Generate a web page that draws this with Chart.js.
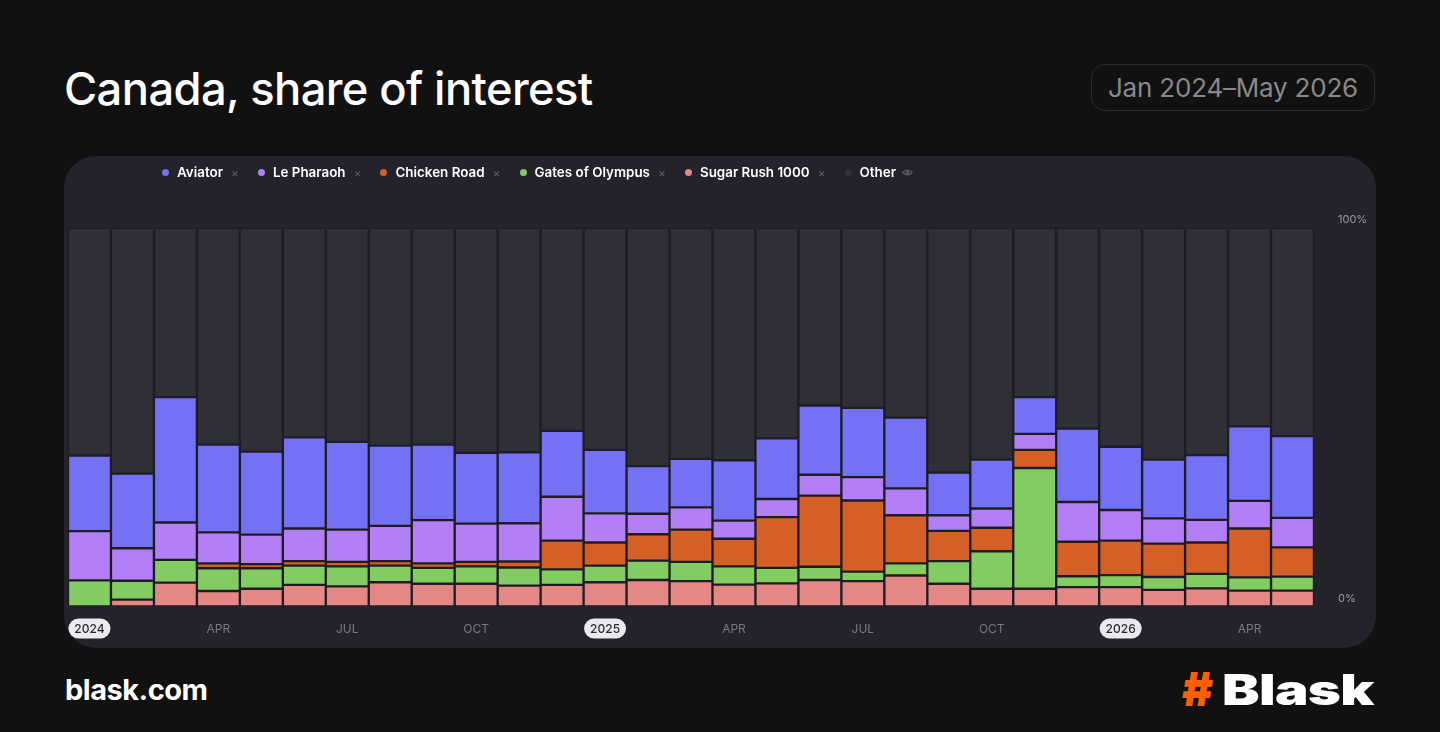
<!DOCTYPE html>
<html lang="en">
<head>
<meta charset="UTF-8">
<title>Canada, share of interest</title>
<script src="https://cdn.jsdelivr.net/npm/chart.js"></script>
<style>
  html, body { margin: 0; padding: 0; }
  body { width: 1440px; height: 732px; background: #111111; position: relative; overflow: hidden; font-family: Inter, "Noto Sans", sans-serif; }
  .title { position: absolute; left: 64px; top: 61px; color: #fff; font-size: 45.3px; font-weight: 500; letter-spacing: -0.6px; }
  .period { position: absolute; left: 1091px; top: 64px; width: 282px; height: 45px; border: 1.5px solid #2b2b2e; border-radius: 14px; color: #88888c; font-size: 26px; line-height: 45px; text-align: center; letter-spacing: -0.2px; }
  .card { position: absolute; left: 64px; top: 156px; width: 1312px; height: 492px; background: #24232b; border-radius: 32px; }
  .legend { position: absolute; left: 98px; top: 6px; display: flex; font-size: 13.4px; font-weight: 600; color: #fff; }
  .legend .item { display: flex; align-items: center; margin-right: 19px; height: 20px; }
  .legend .dot { width: 7px; height: 7px; border-radius: 50%; margin-right: 8px; }
  .legend .x { color: #5d5c64; font-size: 12px; font-weight: 400; margin-left: 8px; }
  .chartbox { position: absolute; left: 0; top: 0; width: 1312px; height: 492px; }
  .site { position: absolute; left: 65px; top: 672px; color: #fff; font-size: 29px; font-weight: 700; letter-spacing: -0.5px; }
  .hash { position: absolute; left: 1182px; top: 660px; font-size: 47px; font-weight: 900; color: #ff5f00; }
  .brand { position: absolute; left: 1222px; top: 664px; font-size: 42px; font-weight: 900; color: #fff; letter-spacing: -0.5px; transform: scaleX(1.34); transform-origin: left center; }
</style>
</head>
<body>
<div class="title">Canada, share of interest</div>
<div class="period">Jan 2024–May 2026</div>
<div class="card">
  <div class="chartbox"><canvas id="chart"></canvas></div>
  <div class="legend" id="legend"></div>
</div>
<div class="site">blask.com</div>
<div class="hash">#</div>
<div class="brand">Blask</div>

<script>
// months Jan 2024 .. May 2026
const months = ['Jan 2024','Feb 2024','Mar 2024','Apr 2024','May 2024','Jun 2024','Jul 2024','Aug 2024','Sep 2024','Oct 2024','Nov 2024','Dec 2024',
  'Jan 2025','Feb 2025','Mar 2025','Apr 2025','May 2025','Jun 2025','Jul 2025','Aug 2025','Sep 2025','Oct 2025','Nov 2025','Dec 2025',
  'Jan 2026','Feb 2026','Mar 2026','Apr 2026','May 2026'];
const tickLabels = ['2024','','','APR','','','JUL','','','OCT','','',
  '2025','','','APR','','','JUL','','','OCT','','',
  '2026','','','APR',''];
const yTicks = [0, 100];

const names = ['Aviator', 'Le Pharaoh', 'Chicken Road', 'Gates of Olympus', 'Sugar Rush 1000', 'Other'];
const colors = ['#7471f5', '#b37ff6', '#d45f27', '#83cc62', '#e58784', '#302f38'];

// share of interest, %
const aviator = [20.0,19.7,33.1,23.2,21.9,24.1,23.2,21.2,20.0,18.7,18.7,17.4,
  16.8,12.6,12.8,15.9,16.0,18.3,18.3,18.7,11.3,12.9,9.7,19.4,
  16.7,15.5,17.1,19.7,21.6];
const lePharaoh = [13.0,8.6,9.9,8.2,7.8,8.6,8.5,9.3,11.4,10.1,10.1,11.6,
  7.7,5.4,5.9,4.8,4.8,5.5,6.2,7.1,4.1,5.1,4.2,10.5,
  8.1,6.7,6.0,7.3,7.8];
const chickenRoad = [0,0,0,1.3,1.1,1.2,1.2,1.2,1.2,1.2,1.6,7.6,
  6.1,7.0,8.5,7.3,13.4,18.8,18.8,12.7,8.0,6.2,4.8,9.1,
  9.1,8.8,8.3,12.9,7.7];
const gatesOfOlympus = [6.9,5.0,6.0,6.0,5.4,5.1,5.3,4.4,4.2,4.6,4.8,4.1,
  4.4,5.1,5.1,4.8,4.1,3.5,2.5,3.2,6.0,9.9,31.9,2.9,
  3.2,3.4,3.8,3.5,3.7];
const sugarRush = [0,1.8,6.3,4.1,4.7,5.7,5.3,6.4,6.0,6.0,5.5,5.7,
  6.4,7.0,6.7,5.8,6.1,7.0,6.7,8.2,6.0,4.7,4.7,5.1,
  5.1,4.4,4.8,4.2,4.2];
const other = [60.1,64.9,44.7,57.2,59.1,55.3,56.5,57.5,57.2,59.4,59.3,53.6,
  58.6,62.9,61.0,61.4,55.6,46.9,47.5,50.1,64.6,61.2,44.7,53.0,
  57.8,61.2,60.0,52.4,55.0];

const seriesValues = [aviator, lePharaoh, chickenRoad, gatesOfOlympus, sugarRush, other];

// legend
const legend = document.getElementById('legend');
names.forEach((n, i) => {
  const el = document.createElement('div');
  el.className = 'item';
  const mark = i === names.length - 1
    ? '<svg width="11" height="11" viewBox="0 0 12 12" style="margin-left:6px"><path d="M1 6 Q6 1 11 6 Q6 11 1 6Z" fill="none" stroke="#5d5c64" stroke-width="1.3"/><circle cx="6" cy="6" r="1.8" fill="#5d5c64"/></svg>'
    : '<span class="x">×</span>';
  el.innerHTML = `<span class="dot" style="background:${colors[i]}"></span>${n}${mark}`;
  legend.appendChild(el);
});

// bottom-up stacking: Sugar Rush, Gates, Chicken Road, Le Pharaoh, Aviator, Other
const stackOrder = [4, 3, 2, 1, 0, 5];
const datasets = stackOrder.map(i => ({
  label: names[i],
  data: seriesValues[i],
  backgroundColor: colors[i],
  borderColor: '#1e1d23',
  borderWidth: 1.5,
  borderSkipped: false,
  barPercentage: 1,
  categoryPercentage: 1
}));

const isYear = s => /^\d{4}$/.test(s);

// white pills behind the year ticks
const yearPills = {
  id: 'yearPills',
  beforeDraw(chart) {
    const ctx = chart.ctx;
    const x = chart.scales.x;
    ctx.save();
    ctx.fillStyle = '#e9e9ee';
    tickLabels.forEach((t, i) => {
      if (!isYear(t)) return;
      const cx = x.getPixelForValue(i);
      const cy = x.top + 22;
      ctx.beginPath();
      ctx.roundRect(cx - 21, cy - 10, 42, 20, 10);
      ctx.fill();
    });
    ctx.restore();
  }
};

new Chart(document.getElementById('chart'), {
  type: 'bar',
  data: { labels: months, datasets },
  options: {
    responsive: true,
    maintainAspectRatio: false,
    animation: false,
    layout: { padding: { left: 4, top: 72, right: 0, bottom: 0 } },
    plugins: { legend: { display: false }, tooltip: { enabled: false } },
    scales: {
      x: {
        stacked: true,
        grid: { display: false, drawTicks: false },
        border: { display: false },
        afterFit(s) { s.height = 41.5; s.paddingLeft = 0; s.paddingRight = 0; },
        ticks: {
          autoSkip: false,
          maxRotation: 0,
          padding: 16,
          font: c => ({ family: 'Inter', size: 12, weight: isYear(tickLabels[c.index]) ? '500' : '400' }),
          color: c => isYear(tickLabels[c.index]) ? '#2a2a30' : '#7a7982',
          callback: (v, i) => tickLabels[i]
        }
      },
      y: {
        stacked: true,
        position: 'right',
        min: 0,
        max: 100,
        grid: { display: false, drawTicks: false },
        border: { display: false },
        afterFit(s) { s.width = 62; s.paddingTop = 0; s.paddingBottom = 0; },
        afterBuildTicks(s) { s.ticks = yTicks.map(v => ({ value: v })); },
        ticks: {
          padding: 24,
          labelOffset: -8,
          font: { family: 'Inter', size: 11 },
          color: '#9a99a2',
          callback: v => v + '%'
        }
      }
    }
  },
  plugins: [yearPills]
});
</script>
</body>
</html>
